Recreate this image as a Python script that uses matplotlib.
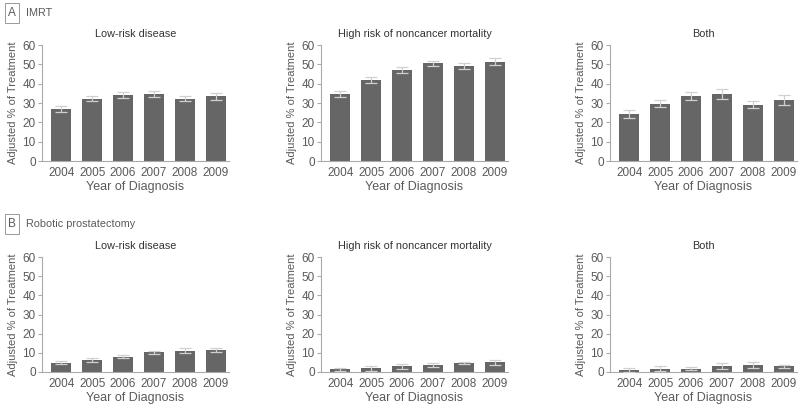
import matplotlib
matplotlib.use("Agg")
import matplotlib.pyplot as plt
import numpy as np

plt.rcParams['font.family'] = ['Liberation Sans', 'DejaVu Sans']

years = ["2004", "2005", "2006", "2007", "2008", "2009"]
subtitles = ["Low-risk disease", "High risk of noncancer mortality", "Both"]
section_letters = ["A", "B"]
section_names = ["IMRT", "Robotic prostatectomy"]

imrt_low = [27.0, 32.3, 34.2, 34.6, 32.3, 33.4]
imrt_low_err = [1.5, 1.5, 1.4, 1.7, 1.5, 1.7]
imrt_high = [34.6, 41.8, 46.9, 50.5, 49.3, 51.4]
imrt_high_err = [1.6, 1.4, 1.5, 1.4, 1.6, 1.9]
imrt_both = [24.2, 29.7, 33.5, 34.6, 29.2, 31.6]
imrt_both_err = [2.0, 1.7, 2.2, 2.4, 1.7, 2.4]

robot_low = [4.9, 6.1, 8.0, 10.3, 11.1, 11.5]
robot_low_err = [0.9, 1.0, 0.9, 0.9, 1.4, 1.0]
robot_high = [1.4, 1.9, 3.0, 3.8, 4.7, 5.0]
robot_high_err = [0.9, 1.2, 1.4, 1.0, 0.6, 1.4]
robot_both = [1.2, 1.7, 1.7, 3.1, 3.6, 3.1]
robot_both_err = [1.0, 1.3, 0.9, 1.6, 1.6, 0.8]

rows = [
    [(imrt_low, imrt_low_err), (imrt_high, imrt_high_err), (imrt_both, imrt_both_err)],
    [(robot_low, robot_low_err), (robot_high, robot_high_err), (robot_both, robot_both_err)],
]

W, H = 800, 407
fig = plt.figure(figsize=(W / 100, H / 100), dpi=100)

txt = "#5a5a5a"
spine = "#aaaaaa"
bar_c = "#666666"
err_c = "#d0d0d0"

lefts = [42, 321, 610]
width_px = 187
row_tops = [45, 257]
row_bottoms = [161, 372]

x = np.arange(len(years))
for r in range(2):
    for c in range(3):
        l = lefts[c] / W
        b = 1 - row_bottoms[r] / H
        h = (row_bottoms[r] - row_tops[r]) / H
        ax = fig.add_axes([l, b, width_px / W, h])
        vals, errs = rows[r][c]
        ax.bar(x, vals, width=0.65, color=bar_c, zorder=2)
        ax.errorbar(x, vals, yerr=errs, fmt='none', ecolor=err_c, elinewidth=0.9,
                    capsize=4, capthick=0.9, zorder=3)
        ax.set_ylim(0, 60)
        ax.set_xlim(-0.62, 5.42)
        ax.set_yticks([0, 10, 20, 30, 40, 50, 60])
        ax.set_xticks(x)
        ax.set_xticklabels(years)
        for s in ['top', 'right']:
            ax.spines[s].set_visible(False)
        for s in ['left', 'bottom']:
            ax.spines[s].set_color(spine)
            ax.spines[s].set_linewidth(0.8)
        ax.tick_params(axis='y', length=3, width=0.8, color=spine, labelsize=8.5,
                       labelcolor=txt, pad=1.5)
        ax.tick_params(axis='x', length=0, labelsize=8.5, labelcolor=txt, pad=4)
        ax.set_ylabel("Adjusted % of Treatment", fontsize=8, color=txt, labelpad=3)
        ax.set_xlabel("Year of Diagnosis", fontsize=9, color=txt, labelpad=2)
        ax.set_title(subtitles[c], fontsize=7.8, color="#333333", pad=6)

# section labels
for r, (letter, name) in enumerate(zip(section_letters, section_names)):
    ytop = [13, 224][r]
    fig.text(12 / W, 1 - ytop / H, letter, fontsize=8.5, color=txt, ha='center', va='center',
             bbox=dict(boxstyle='square,pad=0.3', fc='white', ec='#999999', lw=0.7))
    fig.text(26 / W, 1 - ytop / H, name, fontsize=7.8, color=txt, ha='left', va='center')

fig.savefig("out.png", dpi=100)
